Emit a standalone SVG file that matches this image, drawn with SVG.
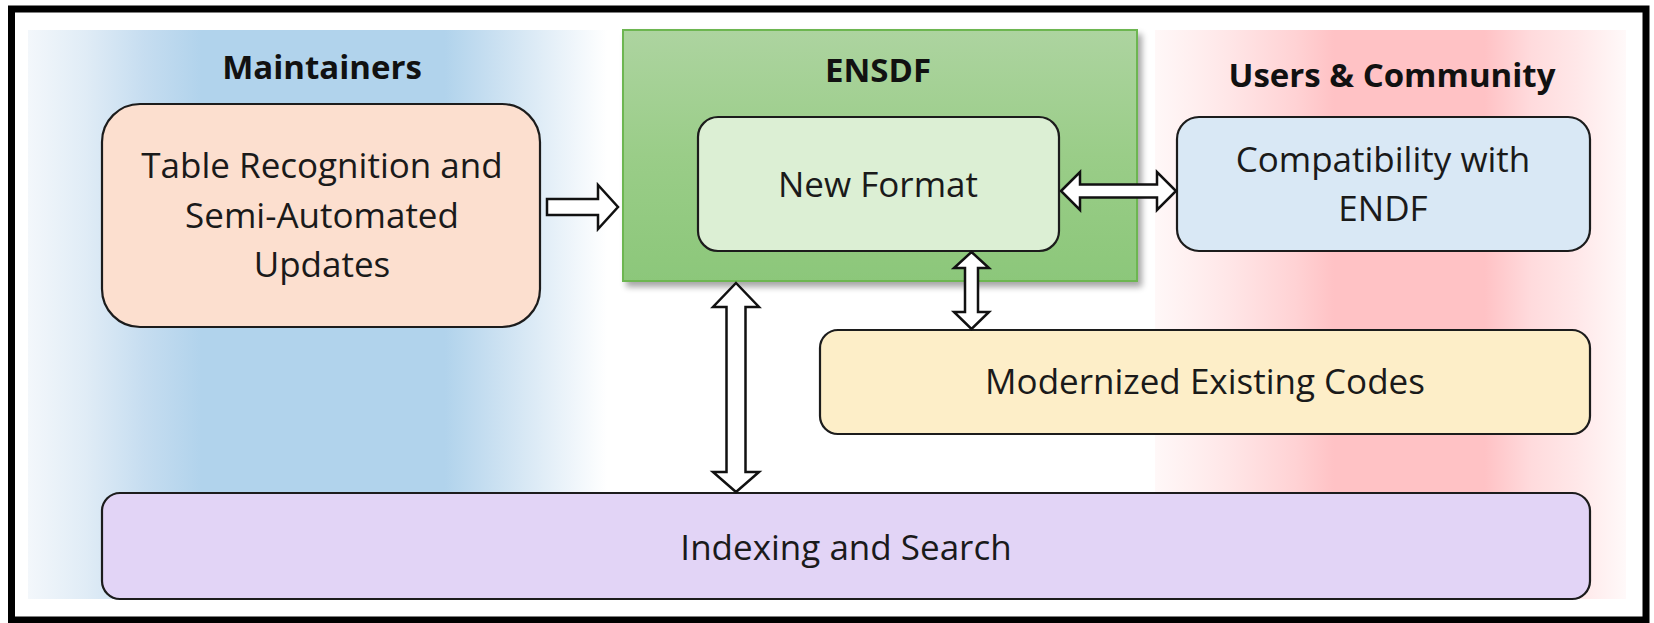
<svg xmlns="http://www.w3.org/2000/svg" width="1654" height="623" viewBox="0 0 1654 623">
  <defs>
    <linearGradient id="blueBand" x1="0" y1="0" x2="1" y2="0">
      <stop offset="0" stop-color="#f3f7fb"/>
      <stop offset="0.1" stop-color="#e0ecf6"/>
      <stop offset="0.2" stop-color="#c6ddf0"/>
      <stop offset="0.3" stop-color="#b1d3ec"/>
      <stop offset="0.72" stop-color="#b1d3ec"/>
      <stop offset="0.82" stop-color="#cde2f2"/>
      <stop offset="0.92" stop-color="#e9f2f9"/>
      <stop offset="1" stop-color="#ffffff"/>
    </linearGradient>
    <linearGradient id="redBand" x1="0" y1="0" x2="1" y2="0">
      <stop offset="0" stop-color="#fff8f8"/>
      <stop offset="0.15" stop-color="#ffe7e8"/>
      <stop offset="0.3" stop-color="#ffd2d4"/>
      <stop offset="0.38" stop-color="#ffc2c5"/>
      <stop offset="0.7" stop-color="#ffc2c5"/>
      <stop offset="0.8" stop-color="#ffdbdd"/>
      <stop offset="0.9" stop-color="#ffe8e9"/>
      <stop offset="1" stop-color="#fff9f9"/>
    </linearGradient>
    <linearGradient id="greenFill" x1="0" y1="0" x2="0" y2="1">
      <stop offset="0" stop-color="#add4a0"/>
      <stop offset="0.5" stop-color="#9acd88"/>
      <stop offset="1" stop-color="#8cc77a"/>
    </linearGradient>
    <filter id="shadow" x="-5%" y="-5%" width="115%" height="120%">
      <feGaussianBlur in="SourceAlpha" stdDeviation="3"/>
      <feOffset dx="4" dy="5" result="b"/>
      <feComponentTransfer><feFuncA type="linear" slope="0.35"/></feComponentTransfer>
      <feMerge><feMergeNode/><feMergeNode in="SourceGraphic"/></feMerge>
    </filter>
  </defs>
  <style>
    .box { stroke: #1c1c1c; stroke-width: 2.2; }
    .txt { font-family: "Open Sans", "Liberation Sans", sans-serif; font-size: 35px; fill: #1a1a1a; text-anchor: middle; }
    .ttl { font-family: "Open Sans", "Liberation Sans", sans-serif; font-size: 33px; font-weight: 700; fill: #111; text-anchor: middle; }
    .arrow { fill: #ffffff; stroke: #111; stroke-width: 2.5; stroke-linejoin: miter; }
  </style>

  <rect x="0" y="0" width="1654" height="623" fill="#ffffff"/>

  <!-- background bands -->
  <g id="bands">
    <rect x="28" y="30" width="579" height="569" fill="url(#blueBand)"/>
    <rect x="1155" y="30" width="471" height="569" fill="url(#redBand)"/>
  </g>

  <!-- outer frame -->
  <rect id="frame" x="11.5" y="9" width="1634.5" height="611" fill="none" stroke="#000" stroke-width="7"/>

  <g id="maintainers-label">
    <text class="ttl" x="322" y="79">Maintainers</text>
  </g>
  <g id="users-label">
    <text class="ttl" x="1392" y="87">Users &amp; Community</text>
  </g>

  <g id="ensdf">
    <rect x="623" y="30" width="514" height="251" fill="url(#greenFill)" stroke="#6db651" stroke-width="2" filter="url(#shadow)"/>
    <text class="ttl" x="878" y="82">ENSDF</text>
  </g>

  <g id="new-format">
    <rect class="box" x="698" y="117" width="361" height="134" rx="20" fill="#dcefd4"/>
    <text class="txt" x="878" y="197">New Format</text>
  </g>

  <g id="table-recognition">
    <rect class="box" x="102" y="104" width="438" height="223" rx="38" fill="#fcdfcf"/>
    <text class="txt" x="322" y="178">Table Recognition and</text>
    <text class="txt" x="322" y="228">Semi-Automated</text>
    <text class="txt" x="322" y="277">Updates</text>
  </g>

  <g id="compatibility">
    <rect class="box" x="1177" y="117" width="413" height="134" rx="22" fill="#d9e8f5"/>
    <text class="txt" x="1383" y="172">Compatibility with</text>
    <text class="txt" x="1383" y="221">ENDF</text>
  </g>

  <g id="modernized">
    <rect class="box" x="820" y="330" width="770" height="104" rx="18" fill="#fdeec8"/>
    <text class="txt" x="1205" y="394">Modernized Existing Codes</text>
  </g>

  <g id="indexing">
    <rect class="box" x="102" y="493" width="1488" height="106" rx="18" fill="#e2d4f6"/>
    <text class="txt" x="846" y="560">Indexing and Search</text>
  </g>

  <g id="connectors">
    <polygon class="arrow" points="547,199 598,199 598,185 618,207 598,229 598,215 547,215"/>
    <polygon class="arrow" points="1061,191 1080,172 1080,184.5 1157,184.5 1157,172 1176,191 1157,210 1157,197.5 1080,197.5 1080,210"/>
    <polygon class="arrow" points="971.5,252 989,268 978,268 978,312 989,312 971.5,329 954,312 965,312 965,268 954,268"/>
    <polygon class="arrow" points="736,283 759,307 745.5,307 745.5,472 759,472 736,492 713,472 726.5,472 726.5,307 713,307"/>
  </g>
</svg>
